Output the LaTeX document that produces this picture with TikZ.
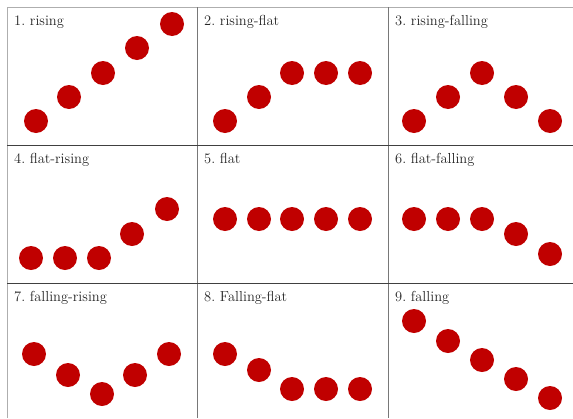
\documentclass[tikz,border=0pt]{standalone}
\definecolor{dotred}{RGB}{192, 0, 0}
\definecolor{gridgray}{RGB}{120, 120, 120}
\usepackage{tikz}
\usetikzlibrary{positioning}
\frenchspacing

\tikzset{
  dot/.style={circle, fill=dotred, inner sep=0pt, minimum size=24pt},
  celllabel/.style={anchor=base west, inner sep=0pt, font=\fontsize{14.5}{17}\selectfont, text=black!85},
}

\begin{document}
\begin{tikzpicture}[x=1pt, y=-1pt]
  \useasboundingbox (0,0) rectangle (573,418);
  % grid
  \draw[gridgray!60, line width=0.8pt] (7,7) -- (573,7);
  \draw[gridgray!60, line width=0.8pt] (7,7) -- (7,418);
  \draw[gridgray, line width=0.6pt] (197,7) -- (197,418);
  \draw[gridgray, line width=0.6pt] (388,7) -- (388,418);
  \draw[black!75, line width=0.6pt] (7,145) -- (573,145);
  \draw[black!75, line width=0.6pt] (7,283) -- (573,283);

  % 1. rising
  \node[celllabel] (lbl1) at (14,25) {1. rising};
  \foreach \x/\y [count=\k] in {36/121,69/97,103/73,137/48,172/24}
    \node[dot] (a\k) at (\x,\y) {};

  % 2. rising-flat
  \node[celllabel] (lbl2) at (204,25) {2. rising-flat};
  \foreach \x/\y [count=\k] in {225/121,259/97,292/73,326/73,360/73}
    \node[dot] (b\k) at (\x,\y) {};

  % 3. rising-falling
  \node[celllabel] (lbl3) at (395,25) {3. rising-falling};
  \foreach \x/\y [count=\k] in {414/121,448/97,482/73,516/97,550/121}
    \node[dot] (c\k) at (\x,\y) {};

  % 4. flat-rising
  \node[celllabel] (lbl4) at (14,163) {4. flat-rising};
  \foreach \x/\y [count=\k] in {31/258,65/258,99/258,132/234,167/209}
    \node[dot] (d\k) at (\x,\y) {};

  % 5. flat
  \node[celllabel] (lbl5) at (204,163) {5. flat};
  \foreach \x/\y [count=\k] in {225/219,259/219,292/219,326/219,360/219}
    \node[dot] (e\k) at (\x,\y) {};

  % 6. flat-falling
  \node[celllabel] (lbl6) at (395,163) {6. flat-falling};
  \foreach \x/\y [count=\k] in {414/219,448/219,482/219,516/234,550/254}
    \node[dot] (f\k) at (\x,\y) {};

  % 7. falling-rising
  \node[celllabel] (lbl7) at (14,301) {7. falling-rising};
  \foreach \x/\y [count=\k] in {34/354,68/375,102/394,135/375,169/354}
    \node[dot] (g\k) at (\x,\y) {};

  % 8. Falling-flat
  \node[celllabel] (lbl8) at (204,301) {8. Falling-flat};
  \foreach \x/\y [count=\k] in {225/354,259/370,292/389,326/389,360/389}
    \node[dot] (h\k) at (\x,\y) {};

  % 9. falling
  \node[celllabel] (lbl9) at (395,301) {9. falling};
  \foreach \x/\y [count=\k] in {414/321,448/341,482/360,516/379,550/398}
    \node[dot] (i\k) at (\x,\y) {};
\end{tikzpicture}
\end{document}
